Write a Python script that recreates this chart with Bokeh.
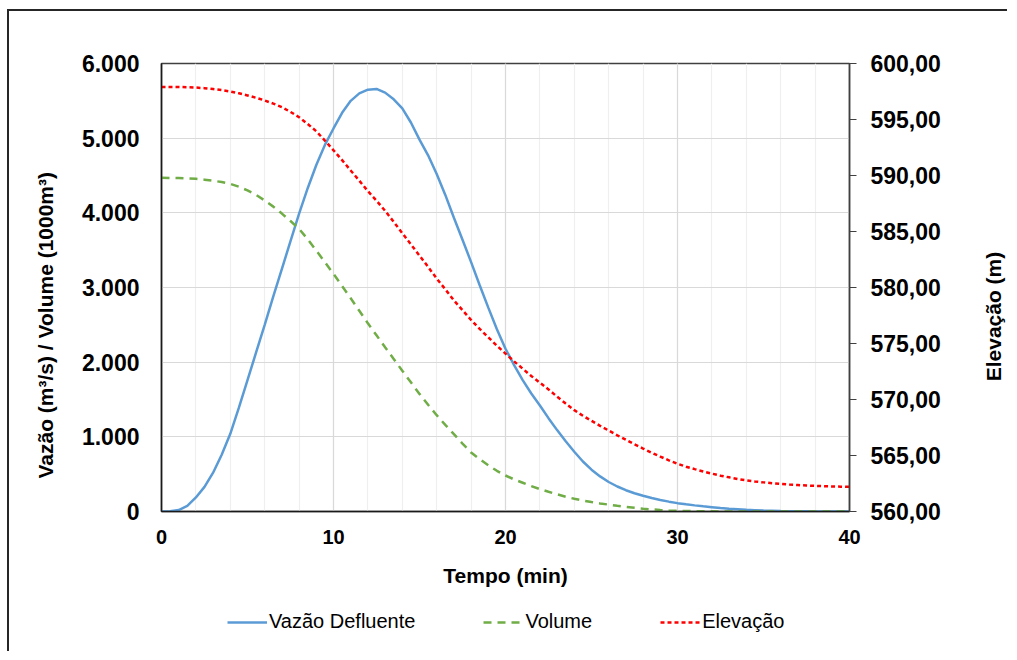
import math
from bokeh.plotting import figure
from bokeh.layouts import column, row
from bokeh.models import (Range1d, LinearAxis, SingleIntervalTicker, Title, Legend, LegendItem, Label)
from bokeh.embed import file_html
from bokeh.resources import INLINE

# ---- data, one value every 0.5 min ----
tempo = [i * 0.5 for i in range(81)]
vazao = [0, 3, 20, 75, 188, 330, 520, 760, 1040, 1390,
         1760, 2130, 2500, 2880, 3250, 3620, 3990, 4330, 4640, 4910,
         5130, 5340, 5500, 5600, 5650, 5660, 5610, 5520, 5400, 5210,
         4980, 4770, 4520, 4240, 3935, 3640, 3340, 3030, 2730, 2440,
         2180, 1960, 1760, 1580, 1420, 1250, 1090, 940, 800, 670,
         560, 470, 395, 335, 285, 245, 210, 180, 155, 132,
         112, 96, 82, 69, 58, 47, 38, 30, 22, 17,
         12, 9, 6, 4, 3, 2, 1, 0, 0, 0, 0]
volume = [4469, 4468, 4465, 4461, 4455, 4444, 4430, 4412, 4388, 4350,
          4300, 4240, 4165, 4083, 3990, 3890, 3786, 3645, 3495, 3340,
          3183, 3020, 2855, 2688, 2520, 2360, 2200, 2043, 1885, 1730,
          1575, 1430, 1290, 1160, 1035, 910, 790, 700, 620, 545,
          482, 430, 385, 340, 300, 264, 230, 198, 170, 147,
          126, 108, 92, 76, 62, 49, 38, 28, 20, 14,
          10, 7, 5, 3, 2, 1, 0, 0, 0, 0,
          0, 0, 0, 0, 0, 0, 0, 0, 0, 0, 0]
elevacao = [597.9, 597.9, 597.9, 597.88, 597.85, 597.8, 597.72, 597.62, 597.5, 597.34,
            597.15, 596.94, 596.7, 596.42, 596.1, 595.68, 595.2, 594.6, 593.95, 593.12,
            592.25, 591.37, 590.45, 589.54, 588.6, 587.75, 586.85, 585.86, 584.85, 583.85,
            582.85, 581.84, 580.8, 579.84, 578.85, 577.98, 577.1, 576.3, 575.55, 574.8,
            574.1, 573.4, 572.75, 572.1, 571.5, 570.9, 570.25, 569.64, 569.05, 568.55,
            568.1, 567.65, 567.23, 566.8, 566.4, 566.0, 565.62, 565.25, 564.9, 564.57,
            564.26, 564.0, 563.78, 563.57, 563.38, 563.2, 563.05, 562.9, 562.78, 562.68,
            562.6, 562.52, 562.46, 562.4, 562.36, 562.32, 562.29, 562.26, 562.24, 562.22, 562.2]

left_ticks = [0, 1000, 2000, 3000, 4000, 5000, 6000]
left_labels = ["0", "1.000", "2.000", "3.000", "4.000", "5.000", "6.000"]
right_ticks = [560, 565, 570, 575, 580, 585, 590, 595, 600]
right_labels = ["560,00", "565,00", "570,00", "575,00", "580,00", "585,00", "590,00", "595,00", "600,00"]

series_names = ["Vazão Defluente", "Volume", "Elevação"]
x_title = "Tempo (min)"
y_title = "Vazão (m³/s) / Volume (1000m³)"
y2_title = "Elevação (m)"

colors = ["#5b9bd5", "#70ad47", "#ff0000"]
dashes = ["solid", "8 6", "4 3"]

FONT = "Liberation Sans"
MB_L, MB_R, MB_T, MB_B = 150, 98, 52, 90
MAIN_W, MAIN_H, SIDE_W = 938, 590, 60

p = figure(width=MAIN_W, height=MAIN_H, output_backend="svg", toolbar_location=None,
           x_range=Range1d(0, 40), y_range=Range1d(0, 6000),
           min_border_left=MB_L, min_border_right=MB_R, min_border_top=MB_T, min_border_bottom=MB_B)
p.extra_y_ranges = {"elev": Range1d(560, 600)}

p.outline_line_color = "#404040"
p.outline_line_width = 1.5

# x axis
xa = p.xaxis[0]
xa.ticker = SingleIntervalTicker(interval=10, num_minor_ticks=5)
xa.major_tick_out = 0
xa.major_tick_in = 0
xa.minor_tick_out = 0
xa.minor_tick_in = 0
xa.axis_line_color = "#1a1a1a"
xa.axis_line_width = 1.5
xa.major_label_text_font = FONT
xa.major_label_text_font_style = "bold"
xa.major_label_text_font_size = "20px"
xa.major_label_text_color = "#000000"
xa.major_label_standoff = 18
xa.axis_label = x_title
xa.axis_label_text_font = FONT
xa.axis_label_text_font_style = "bold"
xa.axis_label_text_font_size = "21px"
xa.axis_label_text_color = "#000000"
xa.axis_label_standoff = 17

# left axis
ya = p.yaxis[0]
ya.ticker = SingleIntervalTicker(interval=1000, num_minor_ticks=0)
ya.major_label_overrides = {t: l for t, l in zip(left_ticks, left_labels)}
ya.major_tick_out = 0
ya.major_tick_in = 0
ya.minor_tick_out = 0
ya.minor_tick_in = 0
ya.axis_line_color = "#1a1a1a"
ya.axis_line_width = 1.5
ya.major_label_text_font = FONT
ya.major_label_text_font_style = "bold"
ya.major_label_text_font_size = "23px"
ya.major_label_text_color = "#000000"
ya.major_label_standoff = 22

# right axis
ra = LinearAxis(y_range_name="elev",
                ticker=SingleIntervalTicker(interval=5, num_minor_ticks=0))
ra.major_label_overrides = {t: l for t, l in zip(right_ticks, right_labels)}
ra.major_tick_out = 7
ra.major_tick_in = 0
ra.minor_tick_out = 0
ra.minor_tick_in = 0
ra.major_tick_line_color = "#404040"
ra.axis_line_color = "#404040"
ra.axis_line_width = 1.5
ra.major_label_text_font = FONT
ra.major_label_text_font_style = "bold"
ra.major_label_text_font_size = "23px"
ra.major_label_text_color = "#000000"
ra.major_label_standoff = 14
p.add_layout(ra, "right")

# grids
p.xgrid.grid_line_color = "#d9d9d9"
p.xgrid.grid_line_width = 1.2
p.xgrid.minor_grid_line_color = "#efefef"
p.xgrid.minor_grid_line_width = 1.2
p.ygrid.grid_line_color = "#d9d9d9"
p.ygrid.grid_line_width = 1.2

# series
p.line(tempo, vazao, line_color=colors[0], line_width=2.5, line_dash=dashes[0])
p.line(tempo, volume, line_color=colors[1], line_width=2.5, line_dash=dashes[1])
p.line(tempo, elevacao, line_color=colors[2], line_width=2.5, line_dash=dashes[2],
       y_range_name="elev")

# left title (starts 33px above the frame bottom, reads upwards)
p.add_layout(Title(text=y_title, align="left", offset=33, standoff=44,
                   text_font=FONT, text_font_style="bold", text_font_size="21px",
                   text_color="#000000"), "left")


def blank(w, h, bl=0, br=0, bt=0, bb=0):
    f = figure(width=w, height=h, output_backend="svg", toolbar_location=None,
               x_range=Range1d(0, 1), y_range=Range1d(0, 1),
               min_border_left=bl, min_border_right=br, min_border_top=bt, min_border_bottom=bb)
    f.axis.visible = False
    f.grid.visible = False
    f.outline_line_color = None
    return f


# right title strip (frame aligned with the main frame)
rf = blank(SIDE_W, MAIN_H, bt=MB_T, bb=MB_B)
rf.add_layout(Label(x=46, y=195, x_units="screen", y_units="screen", text=y2_title,
                    angle=math.pi / 2, text_align="center", text_baseline="middle",
                    text_font=FONT, text_font_style="bold", text_font_size="21px",
                    text_color="#000000"))

# legend strip below the chart
lg = blank(MAIN_W, 50, bl=MB_L, br=MB_R)
nan = float("nan")
items = []
for name, c, d in zip(series_names, colors, dashes):
    r = lg.line([nan, nan], [nan, nan], line_color=c, line_width=2.5, line_dash=d)
    items.append(LegendItem(label=name, renderers=[r]))
legend = Legend(items=items, location=(68, 18), orientation="horizontal",
                glyph_width=40, glyph_height=20, label_standoff=2, spacing=68,
                padding=0, margin=0, border_line_color=None, background_fill_alpha=0,
                label_text_font=FONT, label_text_font_size="20px", label_text_color="#000000")
lg.add_layout(legend, "center")

layout = column(row(p, rf, spacing=0), lg, spacing=0,
                styles={"border-left": "2px solid #262626", "border-top": "2px solid #262626",
                        "margin-left": "7px", "margin-top": "9px"})

open("out.html", "w").write(file_html(layout, INLINE))
